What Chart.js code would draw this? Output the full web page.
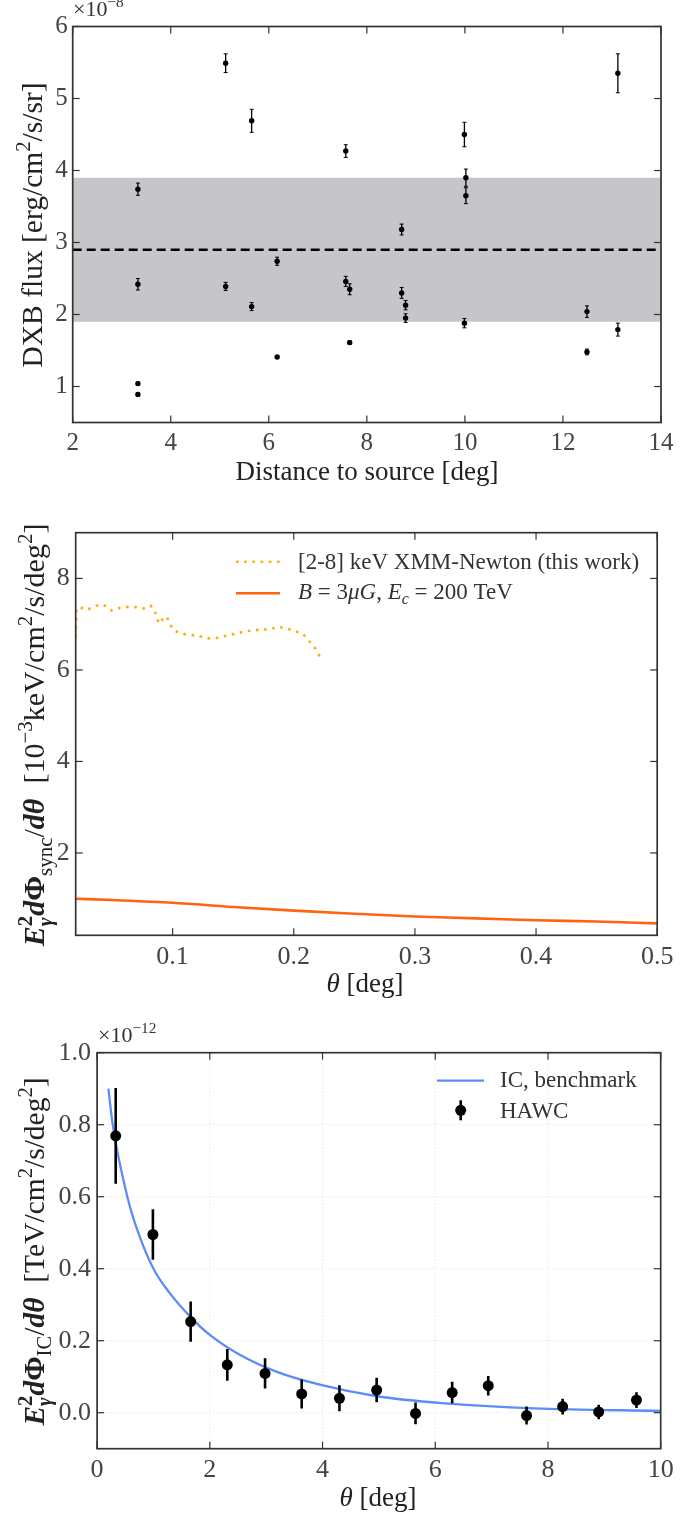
<!DOCTYPE html>
<html>
<head>
<meta charset="utf-8">
<script src="https://cdn.jsdelivr.net/npm/chart.js@4.4.1/dist/chart.umd.min.js"></script>
<style>
    body { margin: 0; background: #fff; width: 698px; height: 1515px; position: relative; overflow: hidden; }
    .panel { position: absolute; left: 0; width: 698px; }
</style>
</head>
<body>
<div class="panel" style="top:0;height:500px"><canvas id="dxbChart"></canvas></div>
<div class="panel" style="top:500px;height:505px"><canvas id="syncChart"></canvas></div>
<div class="panel" style="top:1005px;height:510px"><canvas id="icChart"></canvas></div>
<script>
// --- panel 1: DXB flux per region, units of 1e-8 erg/cm2/s/sr ---
const dxbDist = [3.33, 3.33, 3.33, 3.33, 5.12, 5.12, 5.65, 5.65, 6.17, 6.17, 7.57, 7.57, 7.65, 7.65, 8.71, 8.71, 8.79, 8.79, 9.99, 10.02, 10.02, 9.99, 12.49, 12.49, 13.12, 13.12];
const dxbFlux = [3.74, 2.42, 1.04, 0.89, 5.49, 2.39, 4.69, 2.11, 2.74, 1.41, 4.27, 2.46, 2.35, 1.61, 3.18, 2.30, 2.13, 1.95, 4.50, 3.90, 3.65, 1.88, 2.04, 1.48, 5.35, 1.79];
const dxbErr = [0.085, 0.08, 0.02, 0.02, 0.13, 0.056, 0.16, 0.056, 0.056, 0.02, 0.088, 0.07, 0.076, 0.025, 0.076, 0.076, 0.065, 0.06, 0.17, 0.12, 0.11, 0.065, 0.08, 0.04, 0.27, 0.09];
const dxbMean = 2.9;
const dxbBandLow = 1.9;
const dxbBandHigh = 3.9;
const dxbTicksX = [2, 4, 6, 8, 10, 12, 14];
const dxbTicksY = [1, 2, 3, 4, 5, 6];

// --- panel 2: synchrotron profile, units of 1e-3 keV/cm2/s/deg2 ---
const xmmTheta = [0.0200, 0.0205, 0.0235, 0.0291, 0.0359, 0.0415, 0.0456, 0.0497, 0.0551, 0.0634, 0.0703, 0.0772, 0.0821, 0.0854, 0.0873, 0.0890, 0.0918, 0.0951, 0.0978, 0.1019, 0.1102, 0.1198, 0.1294, 0.1363, 0.1446, 0.1528, 0.1611, 0.1721, 0.1803, 0.1872, 0.1941, 0.2009, 0.2078, 0.2119, 0.2174, 0.2221];
const xmmFlux = [6.72, 7.33, 7.37, 7.31, 7.40, 7.43, 7.39, 7.30, 7.35, 7.38, 7.37, 7.34, 7.40, 7.28, 7.11, 7.01, 7.11, 7.17, 6.99, 6.85, 6.78, 6.75, 6.69, 6.70, 6.75, 6.80, 6.85, 6.88, 6.89, 6.94, 6.91, 6.85, 6.78, 6.66, 6.48, 6.26];
const modelTheta = [0.02, 0.05, 0.1, 0.15, 0.2, 0.25, 0.3, 0.35, 0.4, 0.45, 0.5];
const modelFlux = [1.00, 0.97, 0.91, 0.82, 0.74, 0.67, 0.61, 0.57, 0.53, 0.50, 0.46];
const syncTicksX = [0.1, 0.2, 0.3, 0.4, 0.5];
const syncTicksY = [2, 4, 6, 8];

// --- panel 3: IC profile vs HAWC, units of 1e-12 TeV/cm2/s/deg2 ---
const icTheta = [0.2, 0.277, 0.536, 0.73, 1.0, 1.29, 1.65, 2.0, 2.54, 3.18, 3.97, 4.99, 6.18, 7.76, 10.0];
const icFlux = [0.9, 0.8, 0.6, 0.5, 0.4, 0.332, 0.267, 0.216, 0.160, 0.114, 0.077, 0.045, 0.026, 0.012, 0.005];
const hawcTheta = [0.33, 0.99, 1.66, 2.31, 2.98, 3.63, 4.30, 4.96, 5.65, 6.30, 6.94, 7.62, 8.26, 8.90, 9.57];
const hawcFlux = [0.769, 0.495, 0.253, 0.133, 0.109, 0.052, 0.040, 0.063, -0.002, 0.056, 0.075, -0.008, 0.017, 0.002, 0.035];
const hawcErr = [0.133, 0.07, 0.056, 0.044, 0.042, 0.04, 0.036, 0.034, 0.03, 0.03, 0.027, 0.025, 0.022, 0.02, 0.022];
const icTicksX = [0, 2, 4, 6, 8, 10];
const icTicksY = [0.0, 0.2, 0.4, 0.6, 0.8, 1.0];

const SERIF = '"Liberation Serif", "Times New Roman", serif';
const seg = (t, f = 'r', p, k) => ({ t, f, p, k });

const fontFor = (s, base) => {
    const size = s.p ? base * 0.7 : base;
    return `${s.f.includes('i') ? 'italic ' : ''}${s.f.includes('b') ? 'bold ' : ''}${size}px ${SERIF}`;
};

const richWidth = (ctx, segs, base) => {
    let w = 0, hold = 0;
    segs.forEach(s => {
        ctx.font = fontFor(s, base);
        const sw = ctx.measureText(s.t).width;
        if (s.k) { hold = Math.max(hold, sw); } else { w += Math.max(sw, hold); hold = 0; }
    });
    return w + hold;
};

// draws text with super/subscripts; align 'center' or 'left'
const drawRich = (ctx, segs, x, y, base, opts = {}) => {
    ctx.save();
    ctx.translate(x, y);
    if (opts.rotate) ctx.rotate(-Math.PI / 2);
    ctx.fillStyle = opts.color || '#222';
    ctx.textAlign = 'left';
    ctx.textBaseline = 'alphabetic';
    let cx = opts.align === 'left' ? 0 : -richWidth(ctx, segs, base) / 2;
    let hold = 0;
    segs.forEach(s => {
        ctx.font = fontFor(s, base);
        const sw = ctx.measureText(s.t).width;
        const dy = s.p === 'sup' ? -0.4 * base : s.p === 'sub' ? 0.25 * base : 0;
        ctx.fillText(s.t, cx, dy);
        if (s.k) { hold = Math.max(hold, sw); } else { cx += Math.max(sw, hold); hold = 0; }
    });
    ctx.restore();
};

const line = (ctx, x1, y1, x2, y2) => {
    ctx.beginPath();
    ctx.moveTo(x1, y1);
    ctx.lineTo(x2, y2);
    ctx.stroke();
};

// frame, inward ticks, error bars, titles and legend
const decor = {
    id: 'decor',
    beforeDatasetsDraw(chart) {
        const o = chart.config.options.plugins.decor;
        if (!o.grid) return;
        const { ctx, chartArea: a, scales: { x, y } } = chart;
        ctx.save();
        ctx.strokeStyle = '#e2e2e2';
        ctx.lineWidth = 0.8;
        ctx.setLineDash([1.5, 2]);
        x.ticks.forEach(t => {
            const px = x.getPixelForValue(t.value);
            if (px > a.left + 1 && px < a.right - 1) line(ctx, px, a.top, px, a.bottom);
        });
        y.ticks.forEach(t => {
            const py = y.getPixelForValue(t.value);
            if (py > a.top + 1 && py < a.bottom - 1) line(ctx, a.left, py, a.right, py);
        });
        ctx.restore();
    },
    afterDatasetsDraw(chart) {
        const o = chart.config.options.plugins.decor;
        const { ctx, chartArea: a, scales: { x, y } } = chart;

        chart.data.datasets.forEach(ds => {
            if (!ds.errors) return;
            ctx.save();
            ctx.beginPath();
            ctx.rect(a.left, a.top, a.width, a.height);
            ctx.clip();
            ctx.strokeStyle = '#000';
            ds.data.forEach((p, i) => {
                const px = x.getPixelForValue(p.x);
                const y1 = y.getPixelForValue(p.y - ds.errors[i]);
                const y2 = y.getPixelForValue(p.y + ds.errors[i]);
                ctx.lineWidth = ds.errWidth;
                line(ctx, px, y1, px, y2);
                if (ds.errCap) {
                    ctx.lineWidth = 1;
                    line(ctx, px - ds.errCap, y1, px + ds.errCap, y1);
                    line(ctx, px - ds.errCap, y2, px + ds.errCap, y2);
                }
            });
            ctx.restore();
        });

        ctx.save();
        ctx.strokeStyle = '#333';
        ctx.lineWidth = 1.2;
        x.ticks.forEach(t => {
            const px = x.getPixelForValue(t.value);
            line(ctx, px, a.bottom, px, a.bottom - 7);
            line(ctx, px, a.top, px, a.top + 7);
        });
        y.ticks.forEach(t => {
            const py = y.getPixelForValue(t.value);
            line(ctx, a.left, py, a.left + 7, py);
            line(ctx, a.right, py, a.right - 7, py);
        });
        ctx.lineWidth = 1.7;
        ctx.strokeRect(a.left, a.top, a.width, a.height);
        ctx.restore();

        drawRich(ctx, o.xTitle, o.xAt[0], o.xAt[1], o.titleSize);
        drawRich(ctx, o.yTitle, o.yAt[0], o.yAt[1], o.yTitleSize || o.titleSize, { rotate: true });
        if (o.exp) drawRich(ctx, o.exp, o.expAt[0], o.expAt[1], 22, { align: 'left', color: '#333' });

        if (o.legendItems) {
            ctx.save();
            o.legendItems.forEach(item => {
                if (item.kind === 'line') {
                    ctx.strokeStyle = item.color;
                    ctx.lineWidth = item.width || 2.6;
                    ctx.setLineDash(item.dash || []);
                    line(ctx, item.x1, item.y, item.x2, item.y);
                    ctx.setLineDash([]);
                } else {
                    ctx.strokeStyle = '#000';
                    ctx.lineWidth = 2.6;
                    line(ctx, item.cx, item.y - 10, item.cx, item.y + 10);
                    ctx.fillStyle = '#000';
                    ctx.beginPath();
                    ctx.arc(item.cx, item.y, 5.5, 0, Math.PI * 2);
                    ctx.fill();
                }
                drawRich(ctx, item.label, item.tx, item.ty, 23, { align: 'left', color: '#333' });
            });
            ctx.restore();
        }
    }
};

const tickFont = (size) => ({ family: SERIF, size });

const makeAxis = (min, max, tickValues, opts) => ({
    type: 'linear',
    min,
    max,
    afterBuildTicks: s => { s.ticks = tickValues.map(v => ({ value: v })); },
    afterFit: s => {
        if (opts.width) s.width = opts.width;
        if (opts.height) s.height = opts.height;
    },
    grid: { display: false, drawTicks: false },
    border: { display: false },
    ticks: {
        font: tickFont(opts.size),
        color: '#444',
        padding: opts.padding,
        maxRotation: 0,
        autoSkip: false,
        callback: opts.format || (v => String(v))
    }
});

const baseOptions = (padding, decorOpts, scales) => ({
    responsive: true,
    maintainAspectRatio: false,
    animation: false,
    events: [],
    layout: { padding },
    plugins: {
        legend: { display: false },
        tooltip: { enabled: false },
        decor: decorOpts
    },
    scales
});

const renderDxb = () => {
    const points = dxbDist.map((x, i) => ({ x, y: dxbFlux[i] }));
    new Chart(document.getElementById('dxbChart'), {
        type: 'line',
        plugins: [decor],
        data: {
            datasets: [{
                data: points,
                showLine: false,
                pointRadius: 2.7,
                pointBackgroundColor: '#000',
                pointBorderWidth: 0,
                errors: dxbErr,
                errWidth: 1.3,
                errCap: 2,
                order: 0
            }, {
                data: [{ x: 2, y: dxbMean }, { x: 14, y: dxbMean }],
                borderColor: '#000',
                borderWidth: 2.6,
                borderDash: [9, 5],
                pointRadius: 0,
                order: 1
            }, {
                data: [{ x: 2, y: dxbBandHigh }, { x: 14, y: dxbBandHigh }],
                borderWidth: 0,
                pointRadius: 0,
                backgroundColor: '#c6c6ca',
                fill: { value: dxbBandLow },
                order: 2
            }]
        },
        options: baseOptions(
            { left: 0, top: 26.5, right: 37, bottom: 37.5 },
            {
                xTitle: [seg('Distance to source [deg]')],
                xAt: [367, 480],
                yTitle: [seg('DXB flux [erg/cm'), seg('2', 'r', 'sup'), seg('/s/sr]')],
                yAt: [42, 225],
                titleSize: 27,
                yTitleSize: 29.5,
                exp: [seg('×10'), seg('−8', 'r', 'sup')],
                expAt: [73, 16]
            },
            {
                x: makeAxis(2, 14, dxbTicksX, { height: 40, size: 25, padding: 6 }),
                y: makeAxis(0.5, 6, dxbTicksY, { width: 72.7, size: 25, padding: 5 })
            }
        )
    });
};

const renderSync = () => {
    new Chart(document.getElementById('syncChart'), {
        type: 'line',
        plugins: [decor],
        data: {
            datasets: [{
                data: xmmTheta.map((x, i) => ({ x, y: xmmFlux[i] })),
                borderColor: '#ffad0a',
                borderWidth: 2.6,
                borderDash: [2.6, 5.6],
                pointRadius: 0,
                tension: 0
            }, {
                data: modelTheta.map((x, i) => ({ x, y: modelFlux[i] })),
                borderColor: '#ff6310',
                borderWidth: 2.6,
                pointRadius: 0,
                cubicInterpolationMode: 'monotone'
            }]
        },
        options: baseOptions(
            { left: 0, top: 32.7, right: 40.8, bottom: 29.7 },
            {
                xTitle: [seg('θ', 'i'), seg(' [deg]')],
                xAt: [365, 492],
                yTitle: [
                    seg('E', 'bi'), seg('2', 'b', 'sup', true), seg('γ', 'bi', 'sub'),
                    seg('d', 'bi'), seg('Φ', 'b'), seg('sync', 'r', 'sub'), seg('/'),
                    seg('d', 'bi'), seg('θ', 'bi'), seg('  [10'), seg('−3', 'r', 'sup'),
                    seg('keV/cm'), seg('2', 'r', 'sup'), seg('/s/deg'), seg('2', 'r', 'sup'), seg(']')
                ],
                yAt: [44, 235],
                titleSize: 27,
                yTitleSize: 30,
                legendItems: [
                    { kind: 'line', color: '#ffad0a', dash: [2.6, 5.6], x1: 236, x2: 280, y: 61.7, tx: 298, ty: 68.5,
                      label: [seg('[2-8] keV XMM-Newton (this work)')] },
                    { kind: 'line', color: '#ff6310', x1: 236, x2: 280, y: 93.3, tx: 298, ty: 98.5,
                      label: [seg('B', 'i'), seg(' = 3'), seg('μG', 'i'), seg(', '), seg('E', 'i'), seg('c', 'i', 'sub'), seg(' = 200 TeV')] }
                ]
            },
            {
                x: makeAxis(0.02, 0.5, syncTicksX, { height: 40, size: 26, padding: 6 }),
                y: makeAxis(0.2, 9, syncTicksY, { width: 75.7, size: 26, padding: 6 })
            }
        )
    });
};

const renderIc = () => {
    new Chart(document.getElementById('icChart'), {
        type: 'line',
        plugins: [decor],
        data: {
            datasets: [{
                data: hawcTheta.map((x, i) => ({ x, y: hawcFlux[i] })),
                showLine: false,
                pointRadius: 5.5,
                pointBackgroundColor: '#000',
                pointBorderWidth: 0,
                errors: hawcErr,
                errWidth: 2.6,
                order: 0
            }, {
                data: icTheta.map((x, i) => ({ x, y: icFlux[i] })),
                borderColor: '#5b8cf7',
                borderWidth: 2.3,
                pointRadius: 0,
                cubicInterpolationMode: 'monotone',
                order: 1
            }]
        },
        options: baseOptions(
            { left: 0, top: 47.7, right: 37.3, bottom: 26.3 },
            {
                grid: true,
                xTitle: [seg('θ', 'i'), seg(' [deg]')],
                xAt: [378, 501],
                yTitle: [
                    seg('E', 'bi'), seg('2', 'b', 'sup', true), seg('γ', 'bi', 'sub'),
                    seg('d', 'bi'), seg('Φ', 'b'), seg('IC', 'r', 'sub'), seg('/'),
                    seg('d', 'bi'), seg('θ', 'bi'), seg('  [TeV/cm'), seg('2', 'r', 'sup'),
                    seg('/s/deg'), seg('2', 'r', 'sup'), seg(']')
                ],
                yAt: [44, 246.5],
                titleSize: 27,
                yTitleSize: 29.5,
                exp: [seg('×10'), seg('−12', 'r', 'sup')],
                expAt: [98, 37],
                legendItems: [
                    { kind: 'line', color: '#5b8cf7', width: 2.3, x1: 437, x2: 484, y: 75.7, tx: 500, ty: 82.3,
                      label: [seg('IC, benchmark')] },
                    { kind: 'point', cx: 460.7, y: 105.3, tx: 500, ty: 113.3,
                      label: [seg('HAWC')] }
                ]
            },
            {
                x: makeAxis(0, 10, icTicksX, { height: 40, size: 26, padding: 6 }),
                y: makeAxis(-0.1, 1.0, icTicksY, { width: 97.1, size: 26, padding: 6, format: v => v.toFixed(1) })
            }
        )
    });
};

document.addEventListener('DOMContentLoaded', () => {
    renderDxb();
    renderSync();
    renderIc();
});
</script>
</body>
</html>
